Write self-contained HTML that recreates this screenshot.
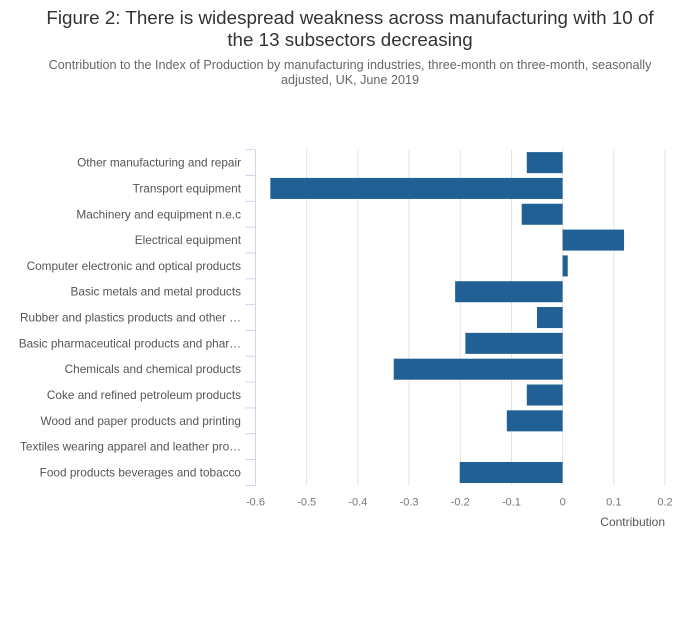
<!DOCTYPE html>
<html><head><meta charset="utf-8"><style>
body{margin:0;background:#fff;font-family:"Liberation Sans",sans-serif;}
svg text{font-family:"Liberation Sans",sans-serif;}
</style></head><body>
<svg id="chart" width="700" height="635" viewBox="0 0 700 635">
<text x="350" y="24" text-anchor="middle" font-size="18.8" fill="#333">Figure 2: There is widespread weakness across manufacturing with 10 of</text>
<text x="350" y="46" text-anchor="middle" font-size="18.8" fill="#333">the 13 subsectors decreasing</text>
<text x="350" y="69" text-anchor="middle" font-size="12.6" fill="#666">Contribution to the Index of Production by manufacturing industries, three-month on three-month, seasonally</text>
<text x="350" y="84" text-anchor="middle" font-size="12.6" fill="#666">adjusted, UK, June 2019</text>
<g id="grid"></g><g id="bars"></g><g id="axes"></g>
<text x="665" y="526" text-anchor="end" font-size="12" fill="#555">Contribution</text>
</svg>
<script>
const categories=["Other manufacturing and repair","Transport equipment","Machinery and equipment n.e.c","Electrical equipment","Computer electronic and optical products","Basic metals and metal products","Rubber and plastics products and other …","Basic pharmaceutical products and phar…","Chemicals and chemical products","Coke and refined petroleum products","Wood and paper products and printing","Textiles wearing apparel and leather pro…","Food products beverages and tobacco"];
const values=[-0.07,-0.571,-0.08,0.12,0.01,-0.21,-0.05,-0.19,-0.33,-0.07,-0.109,0,-0.201];
const xTicks=[-0.6,-0.5,-0.4,-0.3,-0.2,-0.1,0,0.1,0.2];
const xTickLabels=["-0.6","-0.5","-0.4","-0.3","-0.2","-0.1","0","0.1","0.2"];
const NS="http://www.w3.org/2000/svg";
const x0=255.5,x1=665,yTop=149.7,yBottom=485.4,xmin=-0.6,xmax=0.2;
const X=v=>x0+(v-xmin)/(xmax-xmin)*(x1-x0);
const step=(yBottom-yTop)/categories.length;
const Y=i=>yTop+i*step;
function mk(t,a,p){const e=document.createElementNS(NS,t);for(const k in a)e.setAttribute(k,a[k]);p.appendChild(e);return e;}
const grid=document.getElementById('grid'),bars=document.getElementById('bars'),axes=document.getElementById('axes');
xTicks.forEach((t,i)=>{
 if(i>0){const l=mk('line',{x1:X(t),x2:X(t),y1:yTop,y2:yBottom,stroke:'#e3e3e3','stroke-width':1},grid);
 
 }
 const tx=mk('text',{x:X(t),y:yBottom+20,'text-anchor':'middle','font-size':11,fill:'#777'},axes);tx.textContent=xTickLabels[i];
 
 
});
const ax=mk('line',{x1:x0,x2:x0,y1:yTop,y2:yBottom,stroke:'#ccd6eb','stroke-width':1},axes);


for(let i=0;i<=categories.length;i++){const tk=mk('line',{x1:x0-10,x2:x0,y1:Y(i),y2:Y(i),stroke:'#ccd6eb','stroke-width':1},axes);
 
 }
categories.forEach((c,i)=>{
 const v=values[i];const a=X(Math.min(0,v)),b=X(Math.max(0,v));
 const r=mk('rect',{x:a,y:Y(i)+2.4,width:Math.max(0,b-a),height:step-4.8,fill:'#206095'},bars);
 
 
 const t=mk('text',{x:241,y:Y(i)+step/2+4,'text-anchor':'end','font-size':11.8,fill:'#555'},axes);t.textContent=c;
 
 
});
</script>
</body></html>
